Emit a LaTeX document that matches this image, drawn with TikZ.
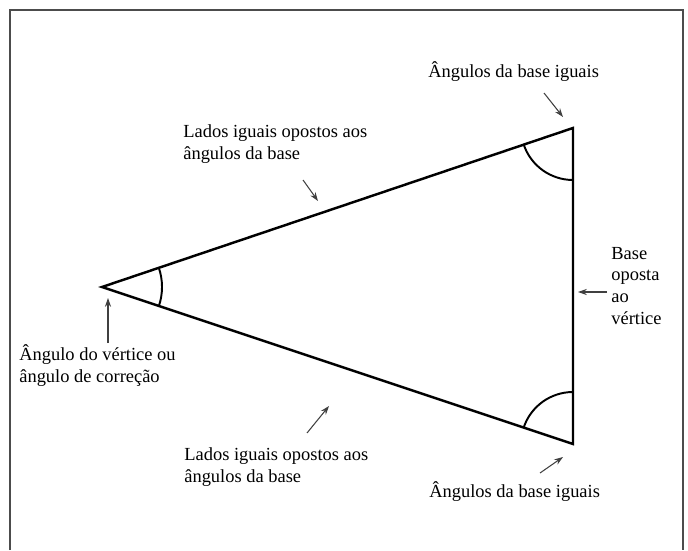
\documentclass[tikz,border=0pt]{standalone}
\usepackage{fontspec}
\setmainfont{Liberation Serif}
\usetikzlibrary{arrows.meta,positioning,calc}

\begin{document}
\begin{tikzpicture}[x=0.02cm, y=-0.02cm,
    tri/.style={line width=1.4pt, line join=miter},
    angarc/.style={line width=1.1pt},
    pointer/.style={-{Stealth[length=5pt,width=3.5pt]}, line width=0.6pt, black!75},
    lbl/.style={anchor=west, align=left, inner sep=0pt, font=\fontsize{10.5}{12.5}\selectfont}
]
    \useasboundingbox (0,0) rectangle (688,550);
    \draw[black!70, line width=1.1pt] (10,550) -- (10,10) -- (683,10) -- (683,550);

    % triangle
    \coordinate (apex) at (102,287);
    \coordinate (top) at (573,128);
    \coordinate (bot) at (573,444);
    \draw[tri] (apex) -- (top) -- (bot) -- cycle;

    \draw[angarc] (apex) ++(-18.65:60) arc[start angle=-18.65, end angle=18.45, radius=60];
    \draw[angarc] (top) ++(90:52) arc[start angle=90, end angle=161.35, radius=52];
    \draw[angarc] (bot) ++(198.45:52) arc[start angle=198.45, end angle=270, radius=52];

    % labels
    \node[lbl] (topAng) at (428,72) {Ângulos da base iguais};
    \node[lbl] (upSides) at (183,144) {Lados iguais opostos aos\\ângulos da base};
    \node[lbl] (baseLbl) at (611,286) {Base\\oposta\\ao\\vértice};
    \node[lbl] (apexLbl) at (19,366) {Ângulo do vértice ou\\ângulo de correção};
    \node[lbl] (lowSides) at (184,467) {Lados iguais opostos aos\\ângulos da base};
    \node[lbl] (botAng) at (429,492) {Ângulos da base iguais};

    % pointers
    \coordinate (p1a) at (544,93);  \coordinate (p1b) at (563,117);
    \coordinate (p2a) at (303,180); \coordinate (p2b) at (318,201);
    \coordinate (p3a) at (607,292); \coordinate (p3b) at (578,292);
    \coordinate (p4a) at (108,343); \coordinate (p4b) at (108,298);
    \coordinate (p5a) at (307,433); \coordinate (p5b) at (329,406);
    \coordinate (p6a) at (540,473); \coordinate (p6b) at (563,457);
    \draw[pointer] (p1a) -- (p1b);
    \draw[pointer] (p2a) -- (p2b);
    \draw[pointer] (p3a) -- (p3b);
    \draw[pointer] (p4a) -- (p4b);
    \draw[pointer] (p5a) -- (p5b);
    \draw[pointer] (p6a) -- (p6b);
\end{tikzpicture}
\end{document}
